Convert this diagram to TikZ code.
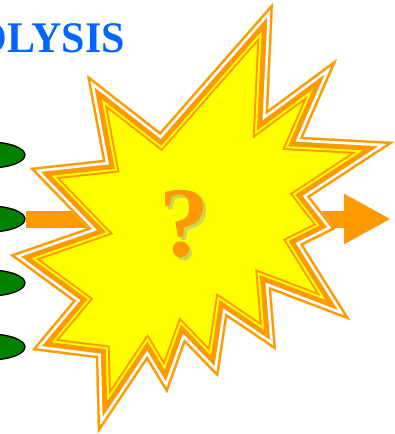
\documentclass[tikz,border=0pt]{standalone}
\usepackage{fontspec}
\setmainfont{Liberation Serif}
\usetikzlibrary{shapes.geometric, arrows.meta, positioning}

\definecolor{burstorange}{RGB}{255,153,0}
\definecolor{burstyellow}{RGB}{255,255,0}
\definecolor{leafgreen}{RGB}{0,128,0}
\definecolor{titleblue}{RGB}{0,102,255}

% outline of the burst, outer edge
\newcommand{\burstoutline}{(273,3) -- (268,110) -- (337,59) -- (303,137) -- (394,142)
  -- (310,197) -- (335,229) -- (303,245) -- (350,320) -- (271,290) -- (276,350)
  -- (227,317) -- (218,377) -- (185,343) -- (167,393) -- (147,360) -- (98,433)
  -- (96,358) -- (32,350) -- (73,301) -- (10,255) -- (88,228) -- (30,168)
  -- (103,160) -- (87,75) -- (160,132) -- cycle}

\begin{document}
\begin{tikzpicture}[
    x=1pt, y=-1pt,
    leaf/.style={ellipse, draw=black, line width=1.3pt, fill=leafgreen, minimum width=72pt, minimum height=26pt, inner sep=0pt},
    shaft/.style={burstorange, line width=17pt},
    band/.style={line join=miter, miter limit=40},
    title/.style={font=\fontsize{42}{42}\selectfont\bfseries, text=titleblue, inner sep=0pt, yscale=1.04},
    qmark/.style={font=\fontsize{100}{100}\selectfont\bfseries, inner sep=0pt},
]
\useasboundingbox (0,0) rectangle (395,434);

% title, cut at the left
\node[title, anchor=base east] (ttl) at (125,52) {OLYSIS};

% leaves on the left
\node[leaf] (l1) at (-11,155) {};
\node[leaf] (l2) at (-11,219) {};
\node[leaf] (l3) at (-11,283) {};
\node[leaf] (l4) at (-11,347) {};

\coordinate (burstc) at (200,219);
\coordinate (tip) at (391,219);

% arrows behind the burst
\draw[shaft] (l2.east) -- (burstc);
\draw[shaft, -{Triangle[length=47pt, width=47pt]}] (burstc) -- (tip);

% the burst: bands drawn inwards
\begin{scope}
  \clip \burstoutline;
  \fill[burstyellow] \burstoutline;
  \foreach \w/\c in {28/burstorange, 24/burstyellow, 20/burstorange, 10/white, 4.5/burstorange}
    \draw[band, line width=\w pt, \c] \burstoutline;
\end{scope}

% question mark with shadow
\node[qmark, text=black!35, opacity=0.5] (qs) at (187,227) {?};
\node[qmark, text=burstorange] (q) at (184,224) {?};
\end{tikzpicture}
\end{document}
